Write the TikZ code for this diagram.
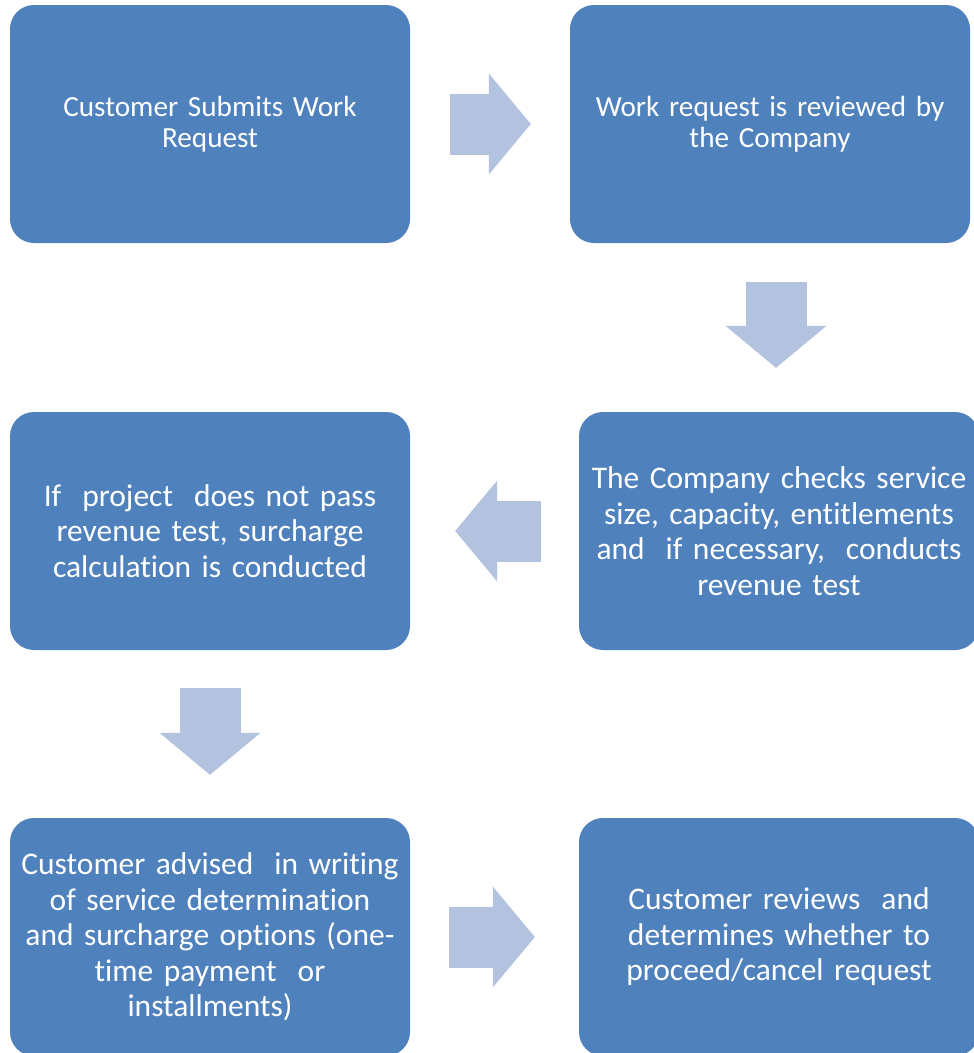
\documentclass[tikz,border=0pt]{standalone}
\usepackage{fontspec}
\setmainfont[Ligatures=NoCommon, WordSpace=0.7]{Carlito}
\usetikzlibrary{arrows.meta}
\definecolor{boxblue}{HTML}{4F81BD}
\definecolor{arrowblue}{HTML}{B3C2DE}
\tikzstyle{taskbox} = [rectangle, rounded corners=24pt, minimum width=400pt, minimum height=238pt, text width=392pt, align=center, fill=boxblue, text=white, inner sep=0pt, font=\fontsize{31.5}{35.5}\selectfont]
\tikzstyle{smalltext} = [font=\fontsize{29.2}{31.5}\selectfont]
\tikzstyle{blockarrow} = [draw=arrowblue, line width=61pt, -{Triangle[width=101pt, length=42pt, line width=0pt]}]

\begin{document}
\begin{tikzpicture}[x=1pt, y=-1pt]
\useasboundingbox (0,0) rectangle (974,1053);
\node (submit) [taskbox, smalltext] at (210,124) {Customer Submits Work\\Request};
\node (review) [taskbox, smalltext] at (770,124) {Work request is reviewed by\\the Company};
\node (checks) [taskbox] at (779,531) {The Company checks service\\size, capacity, entitlements\\and\ \ if necessary,\ \ conducts\\revenue test};
\node (surcharge) [taskbox] at (210,531) {If\ \ project\ \ does not pass\\revenue test, surcharge\\calculation is conducted};
\node (advised) [taskbox] at (210,937) {Customer advised\ \ in writing\\of service determination\\and surcharge options (one-\\time payment\ \ or\\installments)};
\node (decide) [taskbox] at (779,937) {Customer reviews\ \ and\\determines whether to\\proceed/cancel request};

\draw [blockarrow, shorten <=40pt, shorten >=39pt] (submit) -- (review);
\draw [blockarrow, shorten <=39pt, shorten >=44pt] ([xshift=-3pt]checks.north |- review.south) -- ([xshift=-3pt]checks.north);
\draw [blockarrow, shorten <=38pt, shorten >=45pt] (checks) -- (surcharge);
\draw [blockarrow, shorten <=38pt, shorten >=43pt] (surcharge) -- (advised);
\draw [blockarrow, shorten <=39pt, shorten >=44pt] (advised) -- (decide);
\end{tikzpicture}
\end{document}
